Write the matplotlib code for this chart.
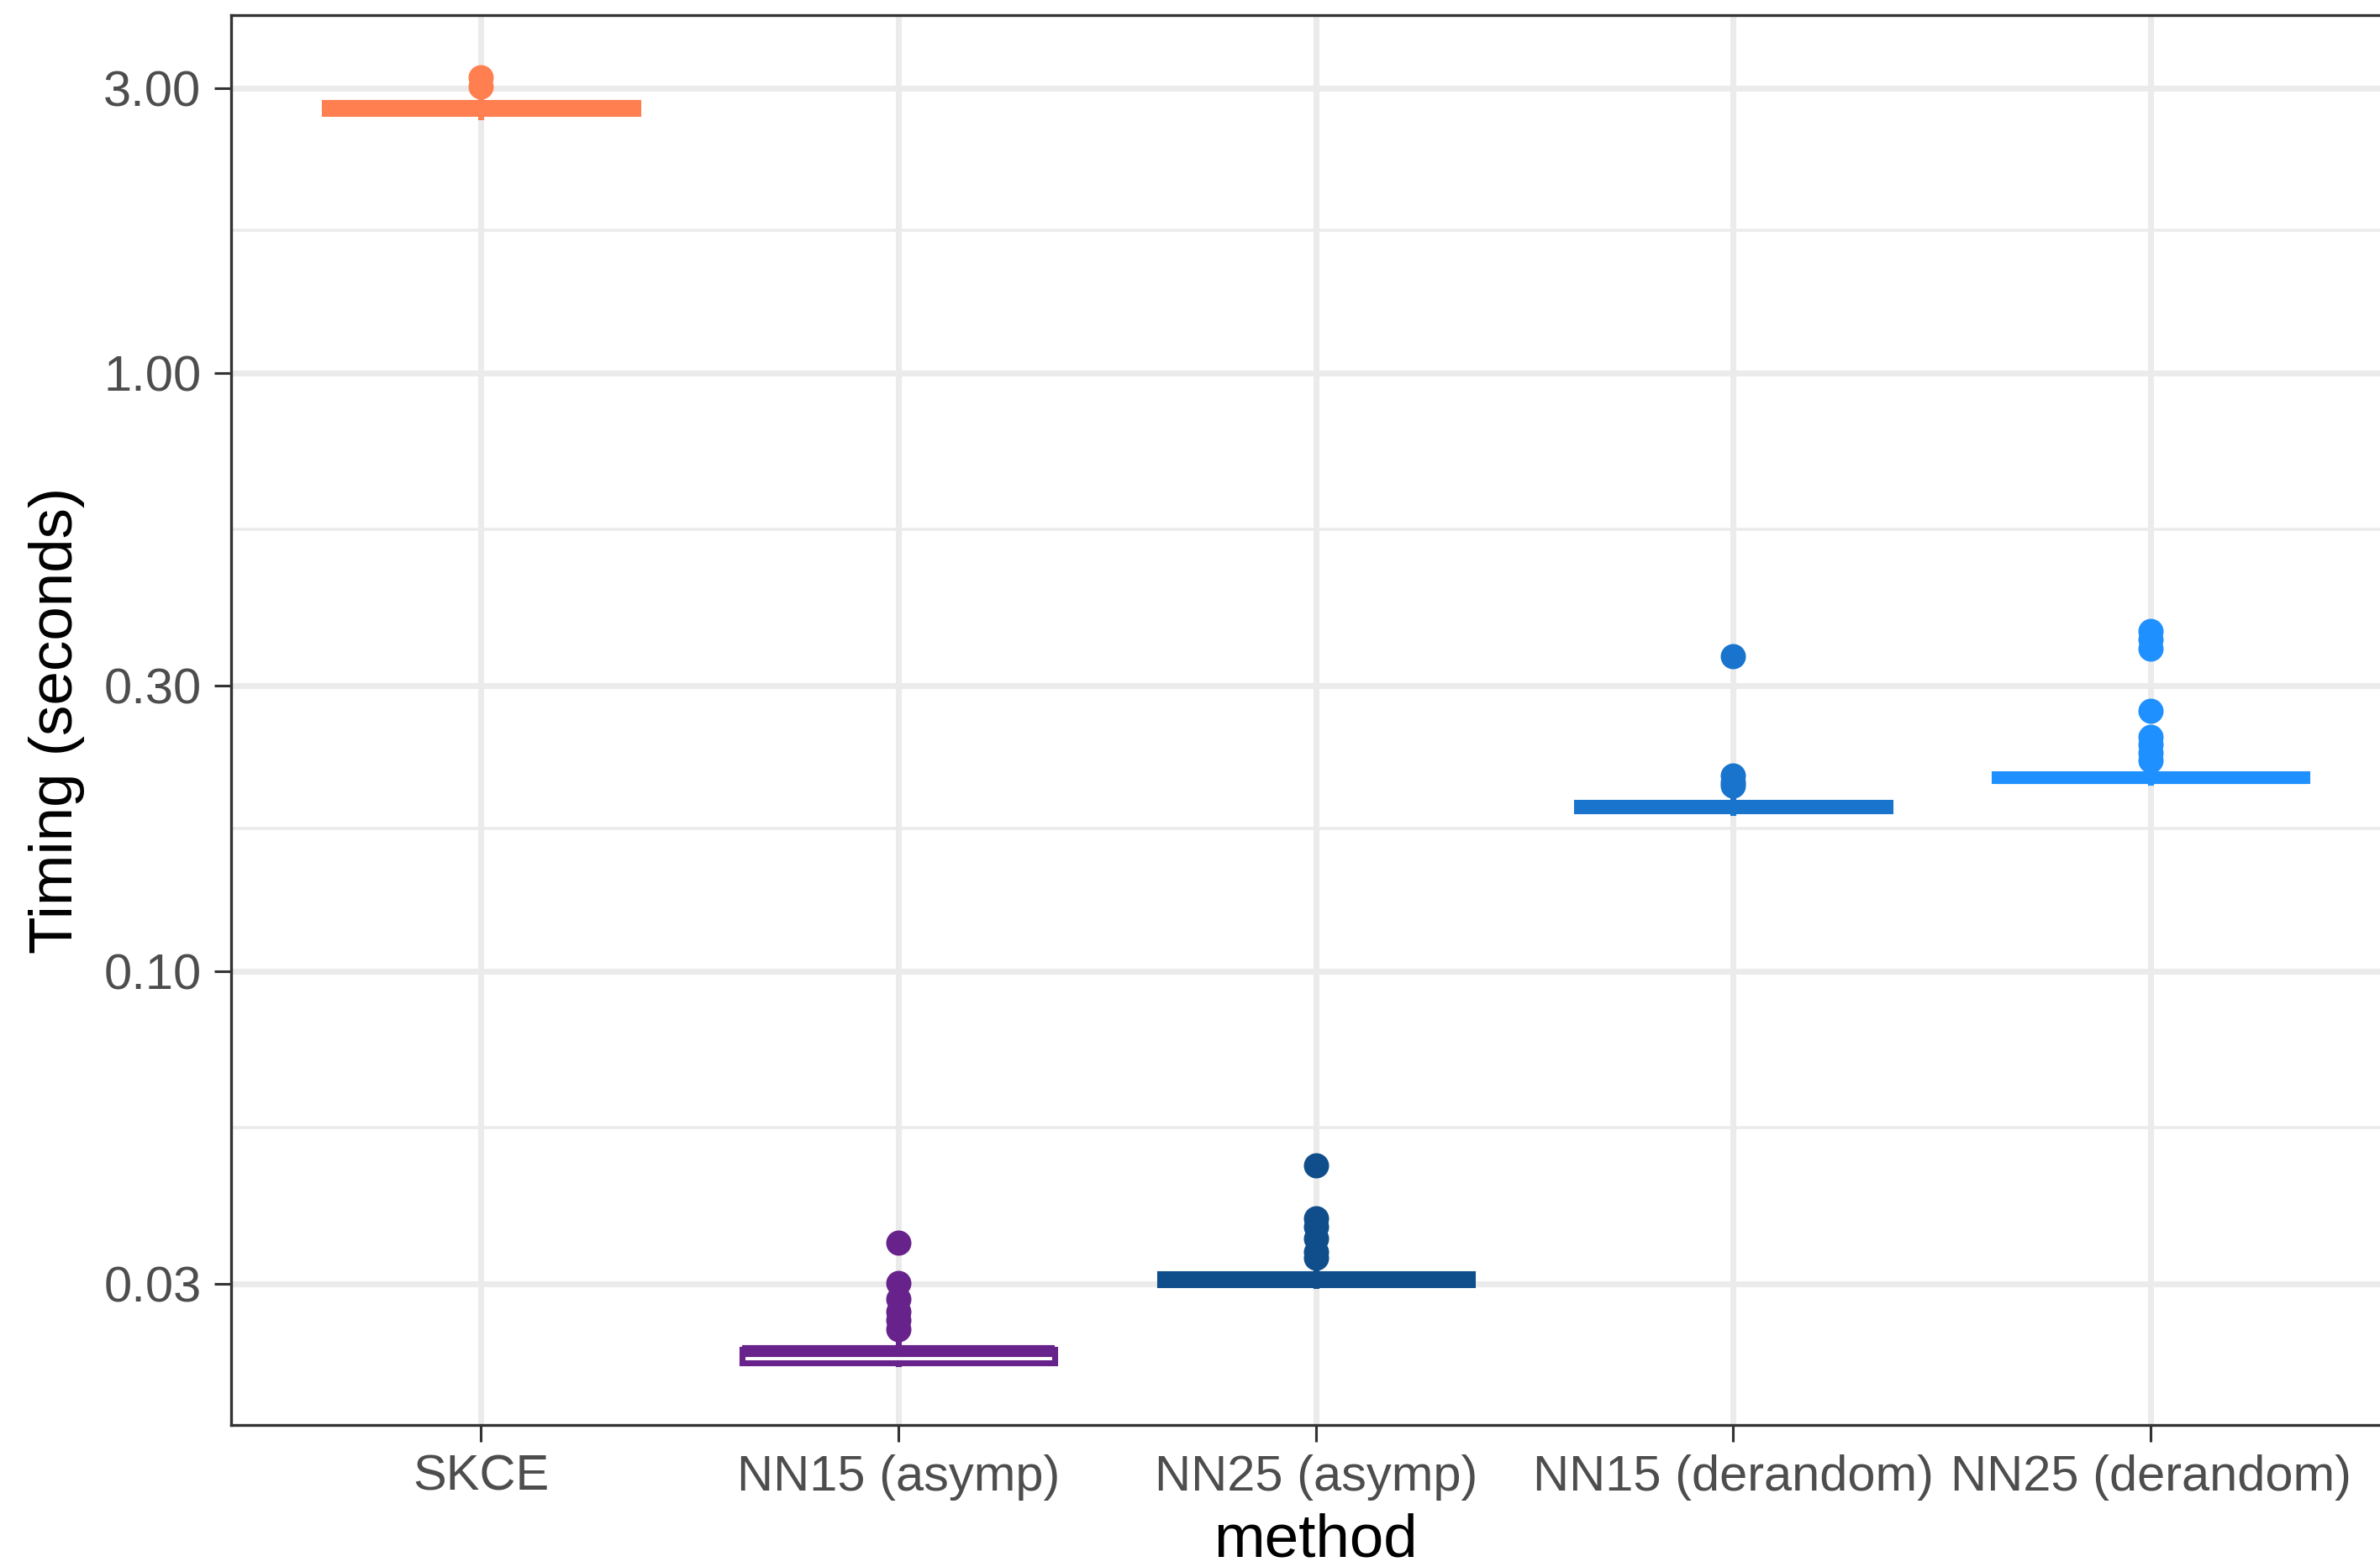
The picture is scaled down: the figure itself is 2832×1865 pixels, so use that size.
import matplotlib
matplotlib.use("Agg")
import matplotlib.pyplot as plt
from matplotlib.ticker import FixedLocator, NullFormatter

plt.rcParams['font.family'] = ['Liberation Sans', 'DejaVu Sans']

# timing summaries per method (seconds)
methods = ["SKCE", "NN15 (asymp)", "NN25 (asymp)", "NN15 (derandom)", "NN25 (derandom)"]
colors  = ["#FF7F50", "#68228B", "#104E8B", "#1874CD", "#1E90FF"]
whislo  = [2.68, 0.02206, 0.02978, 0.1840, 0.2070]
q1      = [2.72, 0.02216, 0.02988, 0.1855, 0.2082]
med     = [2.78, 0.02315, 0.03057, 0.1885, 0.2105]
q3      = [2.84, 0.02334, 0.03116, 0.1915, 0.2135]
whishi  = [2.95, 0.02463, 0.03254, 0.1984, 0.2185]
fliers  = [
    [3.12, 3.02],
    [0.03516, 0.03014, 0.02827, 0.02699, 0.0261, 0.02522],
    [0.0473, 0.03855, 0.03737, 0.03569, 0.03392, 0.03313],
    [0.336, 0.2123, 0.2073, 0.2044],
    [0.3705, 0.3587, 0.3462, 0.2727, 0.2466, 0.2394, 0.2319, 0.2254],
]

yticks  = [0.03, 0.1, 0.3, 1.0, 3.0]
ylabels = ["0.03", "0.10", "0.30", "1.00", "3.00"]
yminor  = [0.05477, 0.1732, 0.5477, 1.732]

W, H = 2832, 1865
dpi = 300
fig = plt.figure(figsize=(W / dpi, H / dpi), dpi=dpi)
left, right, top, bottom = 274.5, 2857, 18, 1696
ax = fig.add_axes([left / W, 1 - bottom / H, (right - left) / W, (bottom - top) / H])

ax.set_yscale('log')
ax.set_ylim(0.01742, 3.97)
ax.set_xlim(0.4, 5.6)

lw = 1.7
for i, m in enumerate(methods):
    c = colors[i]
    st = [dict(label=m, whislo=whislo[i], q1=q1[i], med=med[i], q3=q3[i],
               whishi=whishi[i], fliers=fliers[i])]
    ax.bxp(st, positions=[i + 1], widths=0.75, patch_artist=True,
           showcaps=False,
           boxprops=dict(facecolor='white', edgecolor=c, linewidth=lw, joinstyle='miter'),
           medianprops=dict(color=c, linewidth=lw * 2, solid_capstyle='butt'),
           whiskerprops=dict(color=c, linewidth=lw),
           flierprops=dict(marker='o', markerfacecolor=c, markeredgecolor=c,
                           markersize=7.2, markeredgewidth=0),
           zorder=3)

ax.set_xticks(range(1, len(methods) + 1))
ax.set_xticklabels(methods)
ax.yaxis.set_major_locator(FixedLocator(yticks))
ax.set_yticklabels(ylabels)
ax.yaxis.set_minor_locator(FixedLocator(yminor))
ax.yaxis.set_minor_formatter(NullFormatter())
ax.xaxis.set_minor_locator(FixedLocator([]))

ax.set_axisbelow(True)
ax.grid(which='major', color='#EBEBEB', linewidth=1.7)
ax.grid(which='minor', axis='y', color='#EBEBEB', linewidth=0.85)

ax.tick_params(which='major', length=4.8, width=0.75, color='#333333',
               labelsize=14.3, labelcolor='#4D4D4D', pad=3.6)
ax.tick_params(which='minor', length=0)
for s in ax.spines.values():
    s.set_color('#333333')
    s.set_linewidth(0.8)

ax.set_xlabel("method", fontsize=17.5, color='black')
ax.set_ylabel("Timing (seconds)", fontsize=17.5, color='black')
ax.xaxis.set_label_coords(0.5, -0.082)
ax.xaxis.label.set_verticalalignment('center')
ax.yaxis.set_label_coords(-0.080, 0.5)
ax.yaxis.label.set_verticalalignment('center')

fig.savefig("out.png", dpi=dpi)
